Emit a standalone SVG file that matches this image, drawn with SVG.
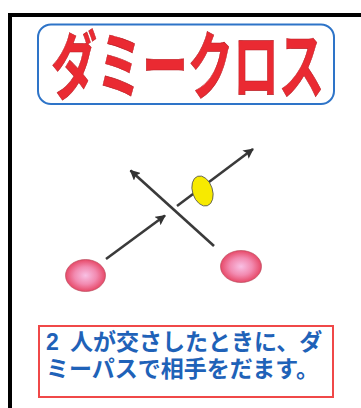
<svg xmlns="http://www.w3.org/2000/svg" width="361" height="408" viewBox="0 0 361 408">
  <defs>
    <radialGradient id="pink" cx="0.5" cy="0.5" r="0.55">
      <stop offset="0" stop-color="#f8c0e4"/>
      <stop offset="0.5" stop-color="#f28ab0"/>
      <stop offset="1" stop-color="#e43a58"/>
    </radialGradient>
    <marker id="ah" viewBox="0 0 10 10" refX="9" refY="5" markerWidth="4" markerHeight="4" orient="auto" markerUnits="strokeWidth">
      <path d="M0,0 L10,5 L0,10 L2,5 Z" fill="#333"/>
    </marker>
    <style>
      .frame { fill: none; stroke: #000; stroke-width: 4; }
      .arrow { fill: none; stroke: #3a3a3a; stroke-width: 2.6; stroke-linecap: butt; marker-end: url(#ah); }
      .title { font-family: "Noto Sans CJK JP", sans-serif; font-weight: 700; font-size: 46px; fill: #ea2a32; stroke: #b81e24; stroke-width: 0.4; }
      .desc { font-family: "Liberation Sans", "Noto Sans CJK JP", sans-serif; font-weight: 700; font-size: 23px; fill: #1f62b8; }
      .player { fill: url(#pink); stroke: #b04050; stroke-width: 0.6; }
    </style>
  </defs>
  <rect width="361" height="408" fill="#fff"/>
  <path class="frame" d="M10,408 V15 H361"/>

  <g id="title">
    <rect x="38" y="24.5" width="296" height="79.5" rx="13" fill="#fff" stroke="#2e74c8" stroke-width="2"/>
    <text class="title" transform="translate(0,93) scale(1,1.6)" x="51" y="0" letter-spacing="-0.5">ダミークロス</text>
  </g>

  <g id="connectors">
    <line class="arrow" x1="106" y1="259" x2="165" y2="215.5"/>
    <line class="arrow" x1="177" y1="206" x2="253" y2="149"/>
    <line class="arrow" x1="214" y1="246" x2="130.5" y2="170.5"/>
  </g>

  <g id="player-left">
    <ellipse class="player" cx="85.5" cy="275.5" rx="20" ry="16"/>
  </g>
  <g id="player-right">
    <ellipse class="player" cx="241" cy="266.5" rx="20.5" ry="16"/>
  </g>
  <g id="ball">
    <ellipse cx="202.5" cy="191" rx="10" ry="15.5" transform="rotate(-18 202.5 191)" fill="#f7ea00" stroke="#555" stroke-width="0.8"/>
  </g>

  <g id="caption">
    <rect x="39" y="326" width="294" height="71" fill="#fff" stroke="#f04848" stroke-width="2"/>
    <text class="desc" x="46" y="350">2</text>
    <text class="desc" x="70" y="350">人が交さしたときに、ダ</text>
    <text class="desc" x="46" y="377">ミーパスで相手をだます。</text>
  </g>
</svg>
